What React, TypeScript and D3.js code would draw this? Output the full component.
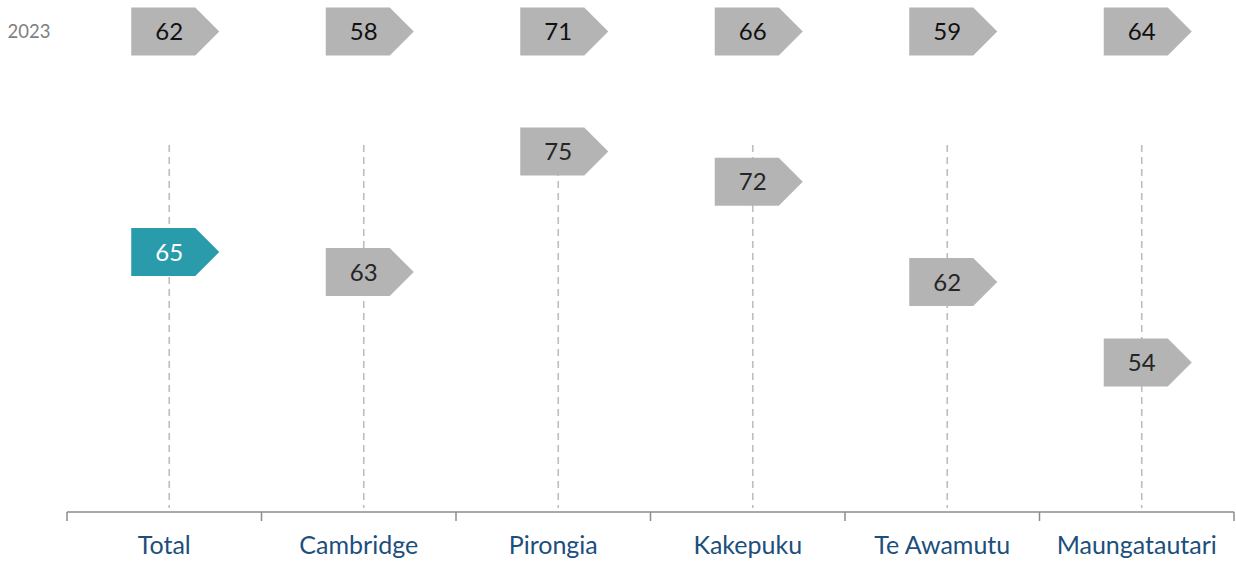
import React, { useEffect, useRef } from 'react'
import * as d3 from 'd3'

const areas = ['Total', 'Cambridge', 'Pirongia', 'Kakepuku', 'Te Awamutu', 'Maungatautari']
const scores2024 = [65, 63, 75, 72, 62, 54]
const scores2023 = [62, 58, 71, 66, 59, 64]
const prevYearLabel = '2023'

const W = 1236
const H = 562
const FONT = 'Lato, "Open Sans", sans-serif'

// pentagon arrow centred on its label point
const arrowPath = (cx: number, cy: number) => {
  const left = cx - 38
  const body = 64
  const tip = 24
  const h = 48
  return `M${left},${cy - h / 2}H${left + body}L${left + body + tip},${cy}L${left + body},${cy + h / 2}H${left}Z`
}

const App = () => {
  const ref = useRef<SVGSVGElement>(null)

  useEffect(() => {
    const svg = d3.select(ref.current)
    svg.selectAll('*').remove()

    const x = d3.scaleBand().domain(areas).range([67, 1234]).padding(0)
    const y = d3.scaleLinear().domain([40, 90]).range([503, 1])
    const cx = (a: string) => (x(a) as number) + x.bandwidth() / 2 + 5
    const axisY = 512

    // dashed guide lines
    svg.append('g')
      .selectAll('line')
      .data(areas)
      .join('line')
      .attr('x1', d => cx(d))
      .attr('x2', d => cx(d))
      .attr('y1', 145)
      .attr('y2', axisY - 4)
      .attr('stroke', '#bdbdbd')
      .attr('stroke-width', 1.6)
      .attr('stroke-dasharray', '7,5')

    // axis line with boundary ticks
    const axis = svg.append('g').attr('stroke', '#8c8c8c').attr('stroke-width', 1.5)
    axis.append('line')
      .attr('x1', x.range()[0]).attr('x2', x.range()[1])
      .attr('y1', axisY).attr('y2', axisY)
    const bounds = areas.map(a => x(a) as number).concat([x.range()[1]])
    axis.selectAll('line.tick')
      .data(bounds)
      .join('line')
      .attr('class', 'tick')
      .attr('x1', d => d).attr('x2', d => d)
      .attr('y1', axisY).attr('y2', axisY + 9)

    svg.append('g')
      .selectAll('text')
      .data(areas)
      .join('text')
      .attr('x', d => (x(d) as number) + x.bandwidth() / 2)
      .attr('y', 554)
      .attr('text-anchor', 'middle')
      .attr('font-family', FONT)
      .attr('font-size', 25)
      .attr('fill', '#1c4f7c')
      .text(d => d)

    // current year markers
    const cur = svg.append('g')
      .selectAll('g')
      .data(areas.map((a, i) => ({ a, v: scores2024[i], i })))
      .join('g')
    cur.append('path')
      .attr('d', d => arrowPath(cx(d.a), y(d.v)))
      .attr('fill', d => (d.i === 0 ? '#299bab' : '#b4b4b4'))
    cur.append('text')
      .attr('x', d => cx(d.a))
      .attr('y', d => y(d.v))
      .attr('dy', '0.36em')
      .attr('text-anchor', 'middle')
      .attr('font-family', FONT)
      .attr('font-size', 24)
      .attr('fill', d => (d.i === 0 ? '#ffffff' : '#262626'))
      .text(d => d.v)

    // previous year row
    const rowY = 31.5
    svg.append('text')
      .attr('x', 29)
      .attr('y', rowY)
      .attr('dy', '0.36em')
      .attr('text-anchor', 'middle')
      .attr('font-family', FONT)
      .attr('font-size', 18.5)
      .attr('fill', '#808080')
      .text(prevYearLabel)

    const prev = svg.append('g')
      .selectAll('g')
      .data(areas.map((a, i) => ({ a, v: scores2023[i] })))
      .join('g')
    prev.append('path')
      .attr('d', d => arrowPath(cx(d.a), rowY))
      .attr('fill', '#b4b4b4')
    prev.append('text')
      .attr('x', d => cx(d.a))
      .attr('y', rowY)
      .attr('dy', '0.36em')
      .attr('text-anchor', 'middle')
      .attr('font-family', FONT)
      .attr('font-size', 24)
      .attr('fill', '#111111')
      .text(d => d.v)
  }, [])

  return (
    <svg
      ref={ref}
      width={W}
      height={H}
      style={{ position: 'absolute', left: 0, top: 0, background: '#fff' }}
    />
  )
}

export default App
